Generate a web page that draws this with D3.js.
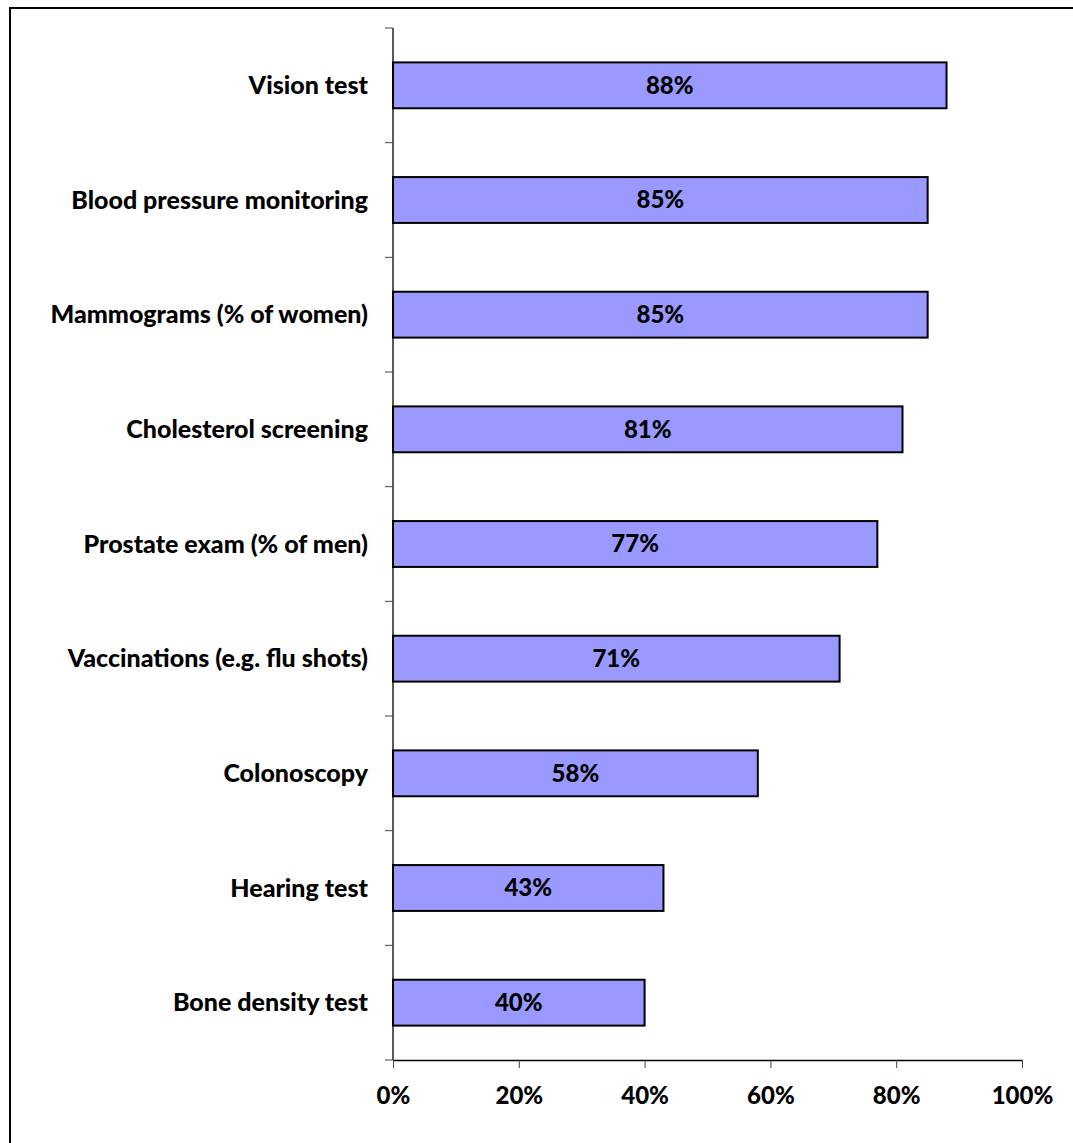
<!DOCTYPE html>
<html>
<head>
<meta charset="utf-8">
<script src="https://cdn.jsdelivr.net/npm/d3@7"></script>
<style>
  html, body { margin: 0; padding: 0; background: #fff; }
  svg { display: block; }
  text { font-family: Lato, "Open Sans", sans-serif; font-weight: 900; fill: #000; }
</style>
</head>
<body>
<svg id="chart" width="1073" height="1143"></svg>
<script>
// Share of respondents who have had each screening or test
const categories = [
  "Vision test",
  "Blood pressure monitoring",
  "Mammograms (% of women)",
  "Cholesterol screening",
  "Prostate exam (% of men)",
  "Vaccinations (e.g. flu shots)",
  "Colonoscopy",
  "Hearing test",
  "Bone density test"
];
const values = [88, 85, 85, 81, 77, 71, 58, 43, 40];
const xTickValues = [0, 20, 40, 60, 80, 100];

const svg = d3.select("#chart");

// outer frame (runs past the right and bottom edges)
svg.append("rect")
  .attr("x", 10).attr("y", 8)
  .attr("width", 1100).attr("height", 1200)
  .attr("fill", "none").attr("stroke", "#000").attr("stroke-width", 2);

const plotLeft = 393, plotRight = 1022, plotTop = 28, plotBottom = 1060;

const x = d3.scaleLinear().domain([0, 100]).range([plotLeft, plotRight]);
const y = d3.scaleBand().domain(categories).range([plotTop, plotBottom]).paddingInner(0.6).paddingOuter(0.3);

// bars
svg.append("g").selectAll("rect")
  .data(categories)
  .join("rect")
  .attr("x", x(0))
  .attr("y", d => y(d))
  .attr("width", (d, i) => x(values[i]) - x(0))
  .attr("height", y.bandwidth())
  .attr("fill", "#9999FF")
  .attr("stroke", "#000")
  .attr("stroke-width", 2);

// value labels centred in each bar
svg.append("g").selectAll("text")
  .data(categories)
  .join("text")
  .attr("x", (d, i) => (x(0) + x(values[i])) / 2)
  .attr("y", d => y(d) + y.bandwidth() / 2)
  .attr("dy", "0.35em")
  .attr("text-anchor", "middle")
  .attr("font-size", 24)
  .text((d, i) => values[i] + "%");

// category axis: tick marks at band boundaries, labels at band centres
const step = (plotBottom - plotTop) / categories.length;
const yAxisG = svg.append("g");
yAxisG.append("line")
  .attr("x1", plotLeft).attr("x2", plotLeft)
  .attr("y1", plotTop).attr("y2", plotBottom)
  .attr("stroke", "#000").attr("stroke-width", 1.3);
yAxisG.selectAll("line.tick")
  .data(d3.range(categories.length + 1))
  .join("line")
  .attr("class", "tick")
  .attr("x1", plotLeft - 8).attr("x2", plotLeft)
  .attr("y1", i => plotTop + i * step).attr("y2", i => plotTop + i * step)
  .attr("stroke", "#444").attr("stroke-width", 1);
yAxisG.selectAll("text")
  .data(categories)
  .join("text")
  .attr("x", plotLeft - 25)
  .attr("y", d => y(d) + y.bandwidth() / 2)
  .attr("dy", "0.35em")
  .attr("text-anchor", "end")
  .attr("font-size", 25)
  .text(d => d);

// value axis
const xAxis = d3.axisBottom(x)
  .tickValues(xTickValues)
  .tickSize(8)
  .tickSizeOuter(0)
  .tickFormat(d => d + "%");
const xg = svg.append("g")
  .attr("transform", `translate(0,${plotBottom})`)
  .call(xAxis);
xg.select(".domain").attr("stroke", "#000").attr("stroke-width", 1.3);
xg.selectAll(".tick line").attr("stroke", "#444");
xg.selectAll(".tick text")
  .attr("y", 36)
  .attr("dy", "0.35em")
  .attr("font-size", 24)
  .attr("font-family", "Lato, sans-serif")
  .attr("font-weight", 900)
  .attr("fill", "#000");
</script>
</body>
</html>
